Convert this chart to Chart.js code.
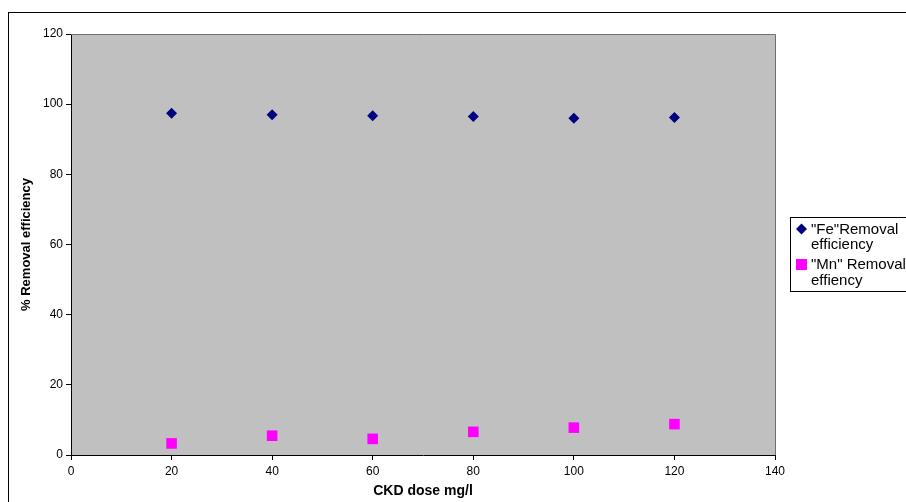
<!DOCTYPE html>
<html>
<head>
<meta charset="utf-8">
<script src="https://cdn.jsdelivr.net/npm/chart.js@4.4.0/dist/chart.umd.min.js"></script>
<style>
  html, body { margin:0; padding:0; background:#fff; }
  #wrap { width:906px; height:502px; position:relative; }
</style>
</head>
<body>
<div id="wrap"><canvas id="chart" width="906" height="502"></canvas></div>
<script>
// Data
const doses = [20, 40, 60, 80, 100, 120];
const feRemoval = [97.4, 97.0, 96.7, 96.5, 96.0, 96.2];
const mnRemoval = [3.3, 5.5, 4.6, 6.6, 7.8, 8.8];
const xTicks = [0, 20, 40, 60, 80, 100, 120, 140];
const yTicks = [0, 20, 40, 60, 80, 100, 120];
const legendLines = [['"Fe"Removal', 'efficiency'], ['"Mn" Removal', 'effiency']];

const FONT = "'Liberation Sans', Arial, sans-serif";

// grey plot background, plot border, outer frame and the custom legend
const framePlugin = {
  id: 'frame',
  beforeDraw(chart){
    const {ctx, chartArea:a} = chart;
    ctx.save();
    ctx.fillStyle = '#c0c0c0';
    ctx.fillRect(a.left, a.top, a.right - a.left, a.bottom - a.top);
    ctx.restore();
  },
  afterDraw(chart){
    const {ctx, chartArea:a} = chart;
    ctx.save();
    ctx.lineWidth = 1;
    ctx.strokeStyle = '#707070';
    ctx.beginPath();
    ctx.moveTo(a.left, a.top + 0.5); ctx.lineTo(a.right + 0.5, a.top + 0.5);
    ctx.lineTo(a.right + 0.5, a.bottom);
    ctx.stroke();

    ctx.strokeStyle = '#000';
    ctx.strokeRect(8.5, 12.5, 1000, 1000);

    // legend
    ctx.strokeRect(790.5, 217.5, 200, 74);
    ctx.fillStyle = '#000080';
    ctx.beginPath();
    ctx.moveTo(796, 229); ctx.lineTo(801.5, 223.5); ctx.lineTo(807, 229); ctx.lineTo(801.5, 234.5);
    ctx.closePath(); ctx.fill();
    ctx.fillStyle = '#ff00ff';
    ctx.fillRect(796, 259, 11, 11);

    ctx.fillStyle = '#000';
    ctx.font = '15px ' + FONT;
    ctx.textBaseline = 'middle';
    ctx.textAlign = 'left';
    ctx.fillText(legendLines[0][0], 811, 230);
    ctx.fillText(legendLines[0][1], 811, 245);
    ctx.fillText(legendLines[1][0], 811, 265);
    ctx.fillText(legendLines[1][1], 811, 281);
    ctx.restore();
  }
};

const ctx = document.getElementById('chart').getContext('2d');
const chart = new Chart(ctx, {
  type: 'scatter',
  data: {
    datasets: [
      { label: legendLines[0].join(' '), data: doses.map((d,i)=>({x:d, y:feRemoval[i]})),
        pointStyle: 'rectRot', pointRadius: 5.5, pointHoverRadius: 5.5,
        backgroundColor: '#000080', borderColor: '#000080', borderWidth: 0 },
      { label: legendLines[1].join(' '), data: doses.map((d,i)=>({x:d, y:mnRemoval[i]})),
        pointStyle: 'rect', pointRadius: 7.5, pointHoverRadius: 7.5,
        backgroundColor: '#ff00ff', borderColor: '#ff00ff', borderWidth: 0 }
    ]
  },
  options: {
    responsive: false,
    animation: false,
    layout: { padding: { left: 0, right: 131, top: 34, bottom: 0 } },
    plugins: { legend: { display: false }, tooltip: { enabled: false } },
    scales: {
      x: {
        type: 'linear', min: 0, max: 140,
        afterBuildTicks: s => { s.ticks = xTicks.map(v => ({value: v})); },
        afterFit: s => { s.height = 47; },
        grid: { drawOnChartArea: false, tickLength: 5, color: '#000' },
        border: { color: '#000' },
        ticks: { color: '#000', padding: 4, font: { family: FONT, size: 12 }, maxRotation: 0 },
        title: { display: true, text: 'CKD dose mg/l', color: '#000',
                 font: { family: FONT, size: 14, weight: 'bold' }, padding: { top: 0, bottom: 2 } }
      },
      y: {
        type: 'linear', min: 0, max: 120,
        afterBuildTicks: s => { s.ticks = yTicks.map(v => ({value: v})); },
        afterFit: s => { s.width = 71; },
        grid: { drawOnChartArea: false, tickLength: 5, color: '#000' },
        border: { color: '#000' },
        ticks: { color: '#000', padding: 3, font: { family: FONT, size: 12 } },
        title: { display: true, text: '% Removal efficiency', color: '#000',
                 font: { family: FONT, size: 13, weight: 'bold' }, padding: { top: 19, bottom: 0 } }
      }
    }
  },
  plugins: [framePlugin]
});
</script>
</body>
</html>
